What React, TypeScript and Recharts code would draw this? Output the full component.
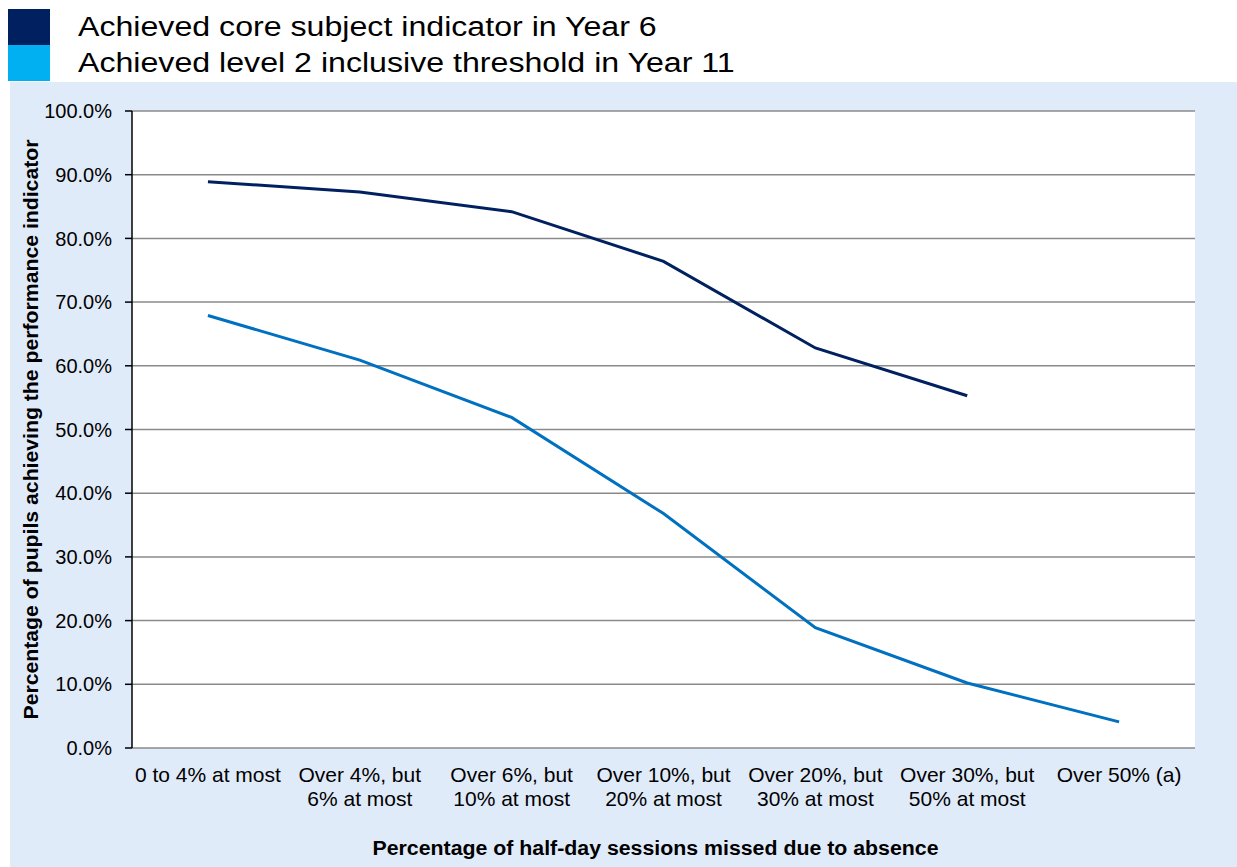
import React from 'react';
import { LineChart, Line, XAxis, YAxis, CartesianGrid, ReferenceLine, Label } from 'recharts';

const categories = [
  '0 to 4% at most',
  'Over 4%, but\n6% at most',
  'Over 6%, but\n10% at most',
  'Over 10%, but\n20% at most',
  'Over 20%, but\n30% at most',
  'Over 30%, but\n50% at most',
  'Over 50% (a)',
];
const coreYear6 = [88.9, 87.3, 84.2, 76.4, 62.8, 55.3, null];
const level2Year11 = [67.9, 60.9, 51.9, 36.8, 18.9, 10.2, 4.1];
const yTicks = [0, 10, 20, 30, 40, 50, 60, 70, 80, 90, 100];
const boundaryTicks = [0, 1, 2, 3, 4, 5, 6, 7];

const seriesNames = ['Achieved core subject indicator in Year 6', 'Achieved level 2 inclusive threshold in Year 11'];
const legendColors = ['#002060', '#00b0f0'];

const data = categories.map((c, i) => ({ cat: c, core: coreYear6[i], level2: level2Year11[i] }));

const FONT = '"Liberation Sans", Arial, sans-serif';

function CategoryTick({ x, y, payload }: any) {
  const lines = String(payload.value).split('\n');
  return (
    <g transform={`translate(${x},${y})`}>
      <text textAnchor="middle" fontSize={21} fill="#000" fontFamily={FONT}>
        {lines.map((l, i) => (
          <tspan key={i} x={0} y={34 + i * 24}>{l}</tspan>
        ))}
      </text>
    </g>
  );
}

// axis titles are a little wider than plain Arial in the original, so stretch them
function YTitle({ viewBox }: any) {
  const cx = viewBox.x + 21;
  const cy = viewBox.y + viewBox.height / 2;
  return (
    <text x={cx} y={cy} transform={`rotate(-90, ${cx}, ${cy})`} textAnchor="middle" dominantBaseline="central"
      fontSize={20} fontWeight="bold" fontFamily={FONT} fill="#000" textLength={580} lengthAdjust="spacingAndGlyphs">
      Percentage of pupils achieving the performance indicator
    </text>
  );
}

function XTitle({ viewBox }: any) {
  return (
    <text x={viewBox.x + viewBox.width / 2 - 8} y={viewBox.y + 107} textAnchor="middle"
      fontSize={20} fontWeight="bold" fontFamily={FONT} fill="#000" textLength={566} lengthAdjust="spacingAndGlyphs">
      Percentage of half-day sessions missed due to absence
    </text>
  );
}

export default function App() {
  return (
    <div style={{ position: 'absolute', left: 0, top: 0, width: 1237, height: 867, fontFamily: FONT, background: '#fff' }}>
      {seriesNames.map((name, i) => (
        <div key={name}>
          <div style={{ position: 'absolute', left: 8, top: 9 + i * 36, width: 42, height: 36, background: legendColors[i] }} />
          <div style={{
            position: 'absolute', left: 78, top: 9 + i * 36, height: 36, lineHeight: '36px', fontSize: 27, color: '#000',
            whiteSpace: 'nowrap', transform: 'scaleX(1.19)', transformOrigin: 'left center',
          }}>
            {name}
          </div>
        </div>
      ))}
      <div style={{ position: 'absolute', left: 10, top: 82, width: 1227, height: 785, background: '#e0ebfa' }}>
        <LineChart width={1227} height={785} data={data} margin={{ top: 29, right: 42, left: 0, bottom: 0 }}>
          <CartesianGrid vertical={false} stroke="#8a8a8a" strokeWidth={1.5} fill="#fff" />
          <XAxis
            xAxisId="bounds"
            type="number"
            domain={[0, 7]}
            ticks={boundaryTicks}
            tick={false}
            height={0}
            axisLine={{ stroke: '#000', strokeWidth: 1.5 }}
            tickLine={{ stroke: '#000', strokeWidth: 1.5 }}
            tickSize={7}
          />
          <XAxis
            dataKey="cat"
            scale="band"
            height={119}
            axisLine={false}
            tickLine={false}
            tickSize={0}
            tickMargin={0}
            interval={0}
            tick={<CategoryTick />}
          >
            <Label content={<XTitle />} />
          </XAxis>
          <YAxis
            domain={[0, 100]}
            ticks={yTicks}
            width={122}
            tickFormatter={(v: number) => v.toFixed(1) + '%'}
            tick={{ fontSize: 20, fill: '#000', fontFamily: FONT }}
            tickSize={7}
            tickMargin={13}
            axisLine={{ stroke: '#000', strokeWidth: 1.5 }}
            tickLine={{ stroke: '#000', strokeWidth: 1.5 }}
          >
            <Label content={<YTitle />} />
          </YAxis>
          <ReferenceLine xAxisId="bounds" x={7} stroke="#8a8a8a" strokeWidth={1.5} />
          <Line type="linear" dataKey="core" stroke="#002060" strokeWidth={3} dot={false} isAnimationActive={false} />
          <Line type="linear" dataKey="level2" stroke="#0070c0" strokeWidth={3} dot={false} isAnimationActive={false} />
        </LineChart>
      </div>
    </div>
  );
}
